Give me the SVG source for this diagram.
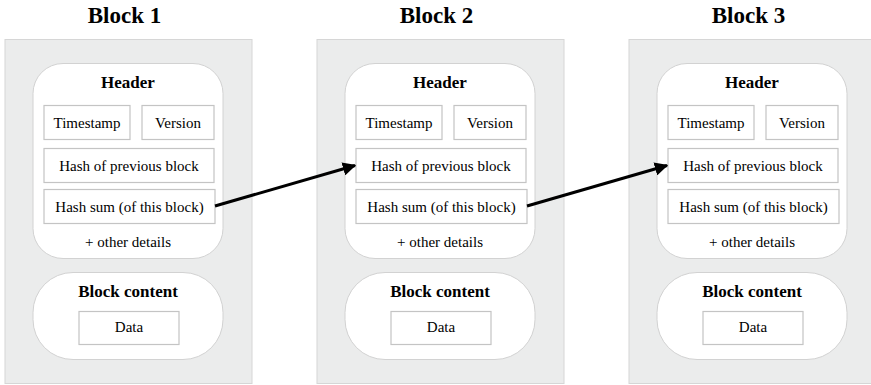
<svg xmlns="http://www.w3.org/2000/svg" width="871" height="385" viewBox="0 0 871 385" font-family="Liberation Serif, Times New Roman, serif">
<style>
text{font-family:'Liberation Serif','Times New Roman',Times,serif;fill:#000;text-anchor:middle}
.title{font-size:23px;font-weight:bold}
.head{font-size:17px;font-weight:bold}
.lbl{font-size:15px}
.outer{fill:#ebecec;stroke:#d6d6d6;stroke-width:1}
.panel{fill:#fff;stroke:#d2d2d2;stroke-width:1}
.box{fill:#fff;stroke:#c4c4c4;stroke-width:1.2}
.conn{stroke:#000;stroke-width:3;fill:none;marker-end:url(#ah)}
</style>
<defs>
<marker id="ah" viewBox="0 0 10 10" refX="9" refY="5" markerWidth="4.5" markerHeight="4.5" orient="auto" markerUnits="strokeWidth">
<path d="M0,0 L10,5 L0,10 Z" fill="#000"/>
</marker>
</defs>
<g id="block1" transform="translate(4.5,0)">
<text class="title" x="120" y="23">Block 1</text>
<rect class="outer" x="0.5" y="39.5" width="247" height="344"/>
<rect class="panel" x="28.5" y="63.5" width="190" height="195" rx="30"/>
<text class="head" x="123.5" y="88">Header</text>
<rect class="box" x="39.5" y="105.5" width="86" height="34"/>
<text class="lbl" x="82.5" y="127.5">Timestamp</text>
<rect class="box" x="137.5" y="105.5" width="72" height="34"/>
<text class="lbl" x="173.5" y="127.5">Version</text>
<rect class="box" x="39.5" y="148.5" width="170" height="34"/>
<text class="lbl" x="124.5" y="170.5">Hash of previous block</text>
<rect class="box" x="39.5" y="189.5" width="171" height="34"/>
<text class="lbl" x="125" y="211.5">Hash sum (of this block)</text>
<text class="lbl" x="123.5" y="247">+ other details</text>
<rect class="panel" x="28.5" y="272.5" width="190" height="87" rx="40"/>
<text class="head" x="123.5" y="297">Block content</text>
<rect class="box" x="74.5" y="311.5" width="100" height="33"/>
<text class="lbl" x="124.5" y="332">Data</text>
</g>
<g id="block2" transform="translate(316.5,0)">
<text class="title" x="120" y="23">Block 2</text>
<rect class="outer" x="0.5" y="39.5" width="247" height="344"/>
<rect class="panel" x="28.5" y="63.5" width="190" height="195" rx="30"/>
<text class="head" x="123.5" y="88">Header</text>
<rect class="box" x="39.5" y="105.5" width="86" height="34"/>
<text class="lbl" x="82.5" y="127.5">Timestamp</text>
<rect class="box" x="137.5" y="105.5" width="72" height="34"/>
<text class="lbl" x="173.5" y="127.5">Version</text>
<rect class="box" x="39.5" y="148.5" width="170" height="34"/>
<text class="lbl" x="124.5" y="170.5">Hash of previous block</text>
<rect class="box" x="39.5" y="189.5" width="171" height="34"/>
<text class="lbl" x="125" y="211.5">Hash sum (of this block)</text>
<text class="lbl" x="123.5" y="247">+ other details</text>
<rect class="panel" x="28.5" y="272.5" width="190" height="87" rx="40"/>
<text class="head" x="123.5" y="297">Block content</text>
<rect class="box" x="74.5" y="311.5" width="100" height="33"/>
<text class="lbl" x="124.5" y="332">Data</text>
</g>
<g id="block3" transform="translate(628.5,0)">
<text class="title" x="120" y="23">Block 3</text>
<rect class="outer" x="0.5" y="39.5" width="247" height="344"/>
<rect class="panel" x="28.5" y="63.5" width="190" height="195" rx="30"/>
<text class="head" x="123.5" y="88">Header</text>
<rect class="box" x="39.5" y="105.5" width="86" height="34"/>
<text class="lbl" x="82.5" y="127.5">Timestamp</text>
<rect class="box" x="137.5" y="105.5" width="72" height="34"/>
<text class="lbl" x="173.5" y="127.5">Version</text>
<rect class="box" x="39.5" y="148.5" width="170" height="34"/>
<text class="lbl" x="124.5" y="170.5">Hash of previous block</text>
<rect class="box" x="39.5" y="189.5" width="171" height="34"/>
<text class="lbl" x="125" y="211.5">Hash sum (of this block)</text>
<text class="lbl" x="123.5" y="247">+ other details</text>
<rect class="panel" x="28.5" y="272.5" width="190" height="87" rx="40"/>
<text class="head" x="123.5" y="297">Block content</text>
<rect class="box" x="74.5" y="311.5" width="100" height="33"/>
<text class="lbl" x="124.5" y="332">Data</text>
</g>
<g id="connectors">
<line class="conn" x1="215" y1="206" x2="355" y2="165.5"/>
<line class="conn" x1="527" y1="206" x2="667" y2="165.5"/>
</g>
</svg>
